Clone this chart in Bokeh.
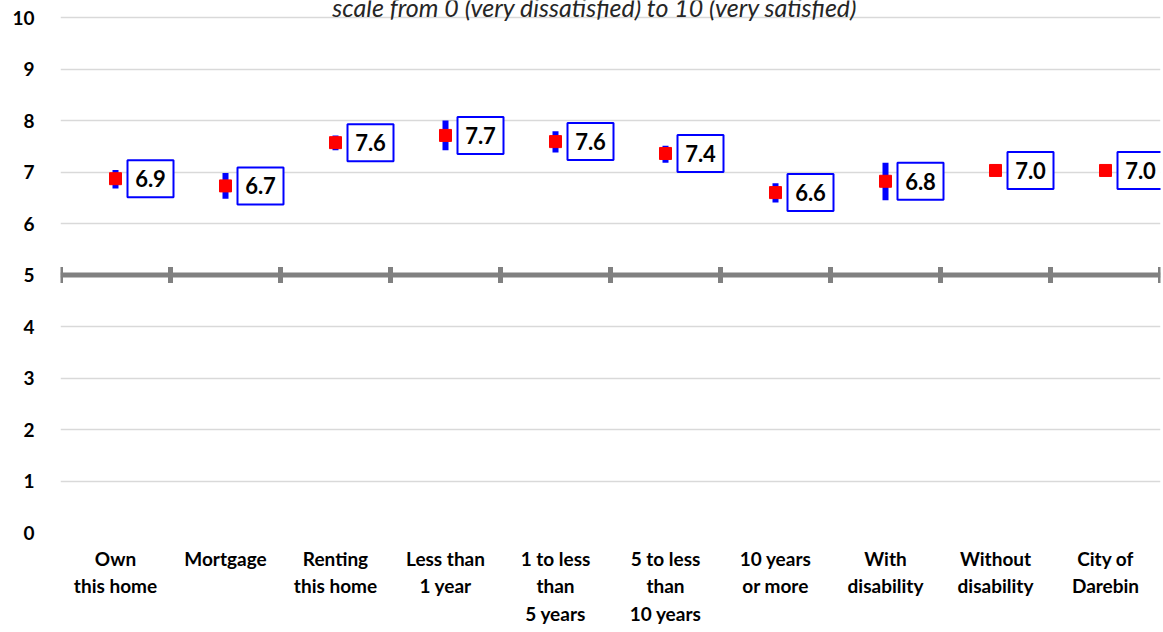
import numpy as np
from bokeh.plotting import figure
from bokeh.models import FixedTicker, Span, ColumnDataSource
from bokeh.core.properties import value
from bokeh.embed import file_html
from bokeh.resources import INLINE

# ---- data ----
categories = ["Own\nthis home", "Mortgage", "Renting\nthis home", "Less than\n1 year",
              "1 to less\nthan\n5 years", "5 to less\nthan\n10 years", "10 years\nor more",
              "With\ndisability", "Without\ndisability", "City of\nDarebin"]
means = [6.87, 6.73, 7.57, 7.71, 7.59, 7.36, 6.60, 6.82, 7.03, 7.03]
ci_low = [6.68, 6.48, 7.42, 7.42, 7.38, 7.18, 6.41, 6.45, 6.92, 6.96]
ci_high = [7.04, 6.98, 7.71, 8.00, 7.79, 7.51, 6.78, 7.18, 7.15, 7.10]
y_ticks = list(range(0, 11))
title_text = "scale from 0 (very dissatisfied) to 10 (very satisfied)"

FONT = "Lato"
W, H = 1163, 632
LEFT, RIGHT, TOP, BOTTOM = 60, 3, 0, 100
frame_w = W - LEFT - RIGHT
frame_h = H - TOP - BOTTOM
n = len(categories)
px_per_unit = frame_w / n
# the frame reaches the top of the page; 17px of headroom above the value 10
y_top = 10 * frame_h / (frame_h - 17)
px_per_y = frame_h / y_top

xs = np.arange(n) + 0.5
box_off = 35 / px_per_unit
labels = [f"{m:.1f}" for m in means]

src = ColumnDataSource(dict(x=xs, bx=xs + box_off, m=means, lo=ci_low, hi=ci_high, lab=labels))

p = figure(width=W, height=H, x_range=(0, n), y_range=(0, y_top), title=None,
           output_backend="svg", toolbar_location=None,
           min_border_left=LEFT, min_border_right=RIGHT,
           min_border_top=TOP, min_border_bottom=BOTTOM)
p.outline_line_color = None
p.background_fill_color = "white"
p.border_fill_color = "white"

# grid
p.xgrid.visible = False
p.yaxis.ticker = FixedTicker(ticks=y_ticks)
p.ygrid.grid_line_color = "#d9d9d9"
p.ygrid.grid_line_width = 1.5

# y axis
p.yaxis.axis_line_color = None
p.yaxis.major_tick_line_color = None
p.yaxis.minor_tick_line_color = None
p.yaxis.major_tick_out = 0
p.yaxis.major_tick_in = 0
p.yaxis.minor_tick_out = 0
p.yaxis.major_label_standoff = 26
p.yaxis.major_label_text_font = FONT
p.yaxis.major_label_text_font_style = "bold"
p.yaxis.major_label_text_font_size = "19px"
p.yaxis.major_label_text_color = "black"

# x axis
p.xaxis.ticker = FixedTicker(ticks=list(xs))
p.xaxis.major_label_overrides = {float(x): c for x, c in zip(xs, categories)}
p.xaxis.axis_line_color = None
p.xaxis.major_tick_line_color = None
p.xaxis.minor_tick_line_color = None
p.xaxis.major_tick_out = 0
p.xaxis.major_tick_in = 0
p.xaxis.minor_tick_out = 0
p.xaxis.major_label_standoff = 14
p.xaxis.major_label_text_font = FONT
p.xaxis.major_label_text_font_style = "bold"
p.xaxis.major_label_text_font_size = "19px"
p.xaxis.major_label_text_color = "black"
p.xaxis.major_label_text_line_height = 1.2

# crossing axis at 5
p.add_layout(Span(location=5, dimension="width", line_color="#808080", line_width=5, level="underlay"))
p.scatter(x=np.arange(n + 1), y=[5] * (n + 1), marker="dash", angle=np.pi / 2, size=16,
          line_width=5, line_color="#808080", level="underlay")

# error bars
p.segment(x0="x", y0="lo", x1="x", y1="hi", source=src, line_color="#0000FF", line_width=6)
# markers
p.scatter(x="x", y="m", source=src, marker="square", size=12, fill_color="#FF0000", line_color="#FF0000")
# value boxes
p.rect(x="bx", y="m", width=46, height=37, width_units="screen", height_units="screen",
       source=src, fill_color="white", line_color="#0000FF", line_width=2)
p.text(x="bx", y="m", text="lab", source=src, text_align="center", text_baseline="middle",
       text_font=value(FONT), text_font_style="bold", text_font_size="22px", text_color="black")

# partially visible subtitle (cut by the top edge, as in the original)
p.text(x=[n / 2 - 0.14], y=[10 + 11 / px_per_y], text=[title_text], text_align="center",
       text_baseline="alphabetic", text_font=value(FONT), text_font_style="italic",
       text_font_size="25px", text_color="#262626")

open("out.html", "w").write(file_html(p, INLINE))
